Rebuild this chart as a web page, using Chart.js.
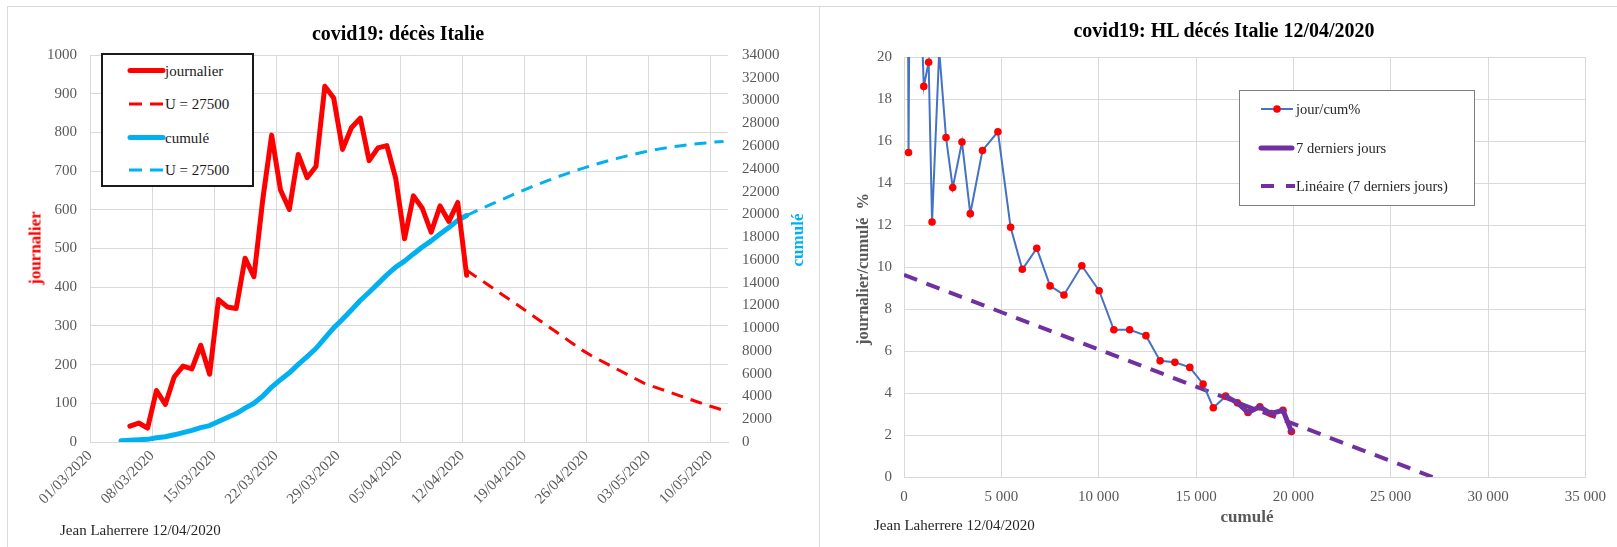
<!DOCTYPE html>
<html>
<head>
<meta charset="utf-8">
<script src="https://cdn.jsdelivr.net/npm/chart.js@4.4.1/dist/chart.umd.min.js"></script>
<style>
  body { margin: 0; width: 1617px; height: 547px; overflow: hidden; position: relative; background: #fff;
         font-family: "Liberation Serif", "Times New Roman", serif; }
  .abs { position: absolute; }
  .mid { transform: translate(-50%, -50%); white-space: pre; line-height: 1; }
  .vert { transform: translate(-50%, -50%) rotate(-90deg); white-space: pre; line-height: 1; font-weight: bold; }
  .title { font-weight: bold; font-size: 20px; color: #000; }
  .foot { font-size: 15px; color: #262626; white-space: pre; line-height: 1; transform: translateY(-50%); }
  .leg { font-size: 15px; color: #1a1a1a; white-space: pre; line-height: 1; transform: translateY(-50%); }
  .leg2 { font-size: 14.5px; color: #262626; white-space: pre; line-height: 1; transform: translateY(-50%); }
  svg { position: absolute; overflow: visible; }
</style>
</head>
<body>
<div class="abs" style="left:7px;top:6px;width:1640px;height:600px;border:1px solid #d9d9d9;"></div>
<div class="abs" style="left:819px;top:6px;width:1px;height:600px;background:#d9d9d9;"></div>

<canvas id="deces" class="abs" width="819" height="547" style="left:0;top:0;"></canvas>
<canvas id="hl" class="abs" width="798" height="547" style="left:819px;top:0;"></canvas>

<!-- left chart texts -->
<div class="abs mid title" style="left:398px;top:33px;">covid19: décès Italie</div>
<div class="abs vert" style="left:35px;top:248px;font-size:17px;color:#ff0000;">journalier</div>
<div class="abs vert" style="left:797px;top:240px;font-size:17px;color:#00b0f0;">cumulé</div>
<div class="abs foot" style="left:60px;top:530px;">Jean Laherrere 12/04/2020</div>

<div class="abs" style="left:101px;top:53px;width:153px;height:134px;box-sizing:border-box;border:2px solid #1a1a1a;background:#fff;"></div>
<svg style="left:0;top:0;width:1px;height:1px;">
  <line x1="130" y1="70.5" x2="163" y2="70.5" stroke="#ff0000" stroke-width="5" stroke-linecap="round"/>
  <line x1="129" y1="104" x2="164" y2="104" stroke="#ff0000" stroke-width="3" stroke-dasharray="13 8"/>
  <line x1="130" y1="137.5" x2="163" y2="137.5" stroke="#00b0f0" stroke-width="5" stroke-linecap="round"/>
  <line x1="129" y1="170" x2="164" y2="170" stroke="#00b0f0" stroke-width="3" stroke-dasharray="13 8"/>
</svg>
<div class="abs leg" style="left:165px;top:70.5px;">journalier</div>
<div class="abs leg" style="left:165px;top:104px;">U = 27500</div>
<div class="abs leg" style="left:165px;top:137.5px;">cumulé</div>
<div class="abs leg" style="left:165px;top:170px;">U = 27500</div>

<!-- right chart texts -->
<div class="abs mid title" style="left:1224px;top:30px;">covid19: HL décés Italie 12/04/2020</div>
<div class="abs vert" style="left:863px;top:269px;font-size:16.5px;color:#595959;">journalier/cumulé  %</div>
<div class="abs mid" style="left:1247px;top:516px;font-size:17px;font-weight:bold;color:#595959;">cumulé</div>
<div class="abs foot" style="left:874px;top:525px;">Jean Laherrere 12/04/2020</div>

<div class="abs" style="left:1239px;top:90px;width:236px;height:116px;box-sizing:border-box;border:1px solid #7f7f7f;background:#fff;"></div>
<svg style="left:0;top:0;width:1px;height:1px;">
  <line x1="1261" y1="109" x2="1293" y2="109" stroke="#4472c4" stroke-width="2"/>
  <circle cx="1277" cy="109" r="3.8" fill="#ff0000"/>
  <line x1="1261" y1="148" x2="1292" y2="148" stroke="#7030a0" stroke-width="5" stroke-linecap="round"/>
  <line x1="1261" y1="186" x2="1295" y2="186" stroke="#7030a0" stroke-width="4" stroke-dasharray="13 12"/>
</svg>
<div class="abs leg2" style="left:1296px;top:109px;">jour/cum%</div>
<div class="abs leg2" style="left:1296px;top:148px;">7 derniers jours</div>
<div class="abs leg2" style="left:1296px;top:186px;">Linéaire (7 derniers jours)</div>

<script>
// --- données: décès Italie (date de départ de chaque série + valeurs journalières) ---
const journalierDebut = '05/03/2020';
const journalier = [41, 49, 36, 133, 97, 168, 196, 189, 250, 175,
                    368, 349, 345, 475, 427, 627, 793, 651, 601, 743,
                    683, 712, 919, 889, 756, 812, 837, 727, 760, 766,
                    681, 525, 636, 604, 542, 610, 570, 619, 431];

const cumulDebut = '04/03/2020';
const cumul = [107, 148, 197, 233, 366, 463, 631, 827, 1016, 1266,
               1441, 1809, 2158, 2503, 2978, 3405, 4032, 4825, 5476, 6077,
               6820, 7503, 8215, 9134, 10023, 10779, 11591, 12428, 13155, 13915,
               14681, 15362, 15887, 16523, 17127, 17669, 18279, 18849, 19468, 19899];

// modèle U = 27500, à partir du 12/04
const modeleDebut = '12/04/2020';
const modeleJournalier = [444, 428, 413, 397, 381, 366, 350, 334, 318, 302,
                          286, 270, 254, 238, 224, 212, 200, 188, 176, 164,
                          152, 144, 136, 128, 120, 112, 104, 96, 89, 82];
const modeleCumul = [19899, 20259, 20614, 20964, 21309, 21649, 21984, 22314, 22624, 22924,
                     23214, 23494, 23762, 24018, 24262, 24494, 24714, 24922, 25118, 25302,
                     25474, 25634, 25774, 25900, 26012, 26112, 26200, 26278, 26348, 26408];

// --- données: Hubbert linearization (cumulé, journalier/cumulé %) ---
const hlCumul = [148, 197, 233, 366, 463, 631, 827, 1016, 1266, 1441,
                 1809, 2158, 2503, 2978, 3405, 4032, 4825, 5476, 6077, 6820,
                 7503, 8215, 9134, 10023, 10779, 11591, 12428, 13155, 13915, 14681,
                 15362, 15887, 16523, 17127, 17669, 18279, 18849, 19468, 19899];
const hlPct = [27.7, 24.9, 15.45, 36.3, 20.95, 26.6, 23.7, 18.6, 19.75, 12.14,
               20.3, 16.17, 13.78, 15.95, 12.54, 15.55, 16.44, 11.89, 9.89, 10.89,
               9.10, 8.67, 10.06, 8.87, 7.01, 7.01, 6.73, 5.53, 5.46, 5.22,
               4.43, 3.30, 3.85, 3.53, 3.07, 3.34, 3.02, 3.18, 2.17];
const derniersJours = 7;
const tendanceCumul = [0, 27150];
const tendancePct = [9.62, 0];

// axes
const dateOrigine = '01/03/2020';
const dateFinJours = 72;       // 12/05/2020
const xMaxCumul = 35000;

const GRID = '#d9d9d9';
const TICK = '#595959';
const FONT = { family: "'Liberation Serif', 'Times New Roman', serif", size: 15 };

function jour(str) {
    const [d, m, y] = str.split('/').map(Number);
    const [d0, m0, y0] = dateOrigine.split('/').map(Number);
    return Math.round((Date.UTC(y, m - 1, d) - Date.UTC(y0, m0 - 1, d0)) / 86400000);
}

function serie(debut, values) {
    const j0 = jour(debut);
    return values.map((v, i) => ({ x: j0 + i + 0.5, y: v }));
}

function dateLabel(value) {
    const [d0, m0, y0] = dateOrigine.split('/').map(Number);
    const d = new Date(Date.UTC(y0, m0 - 1, d0 + value));
    const dd = String(d.getUTCDate()).padStart(2, '0');
    const mm = String(d.getUTCMonth() + 1).padStart(2, '0');
    return `${dd}/${mm}/${d.getUTCFullYear()}`;
}

function milliers(value) {
    return String(value).replace(/\B(?=(\d{3})+(?!\d))/g, ' ');
}

Chart.defaults.font.family = FONT.family;
Chart.defaults.font.size = FONT.size;
Chart.defaults.color = TICK;

new Chart(document.getElementById('deces'), {
    type: 'line',
    data: {
        datasets: [
            { data: serie(journalierDebut, journalier), yAxisID: 'y', borderColor: '#ff0000',
              borderWidth: 5, borderJoinStyle: 'round', borderCapStyle: 'round', order: 0 },
            { data: serie(modeleDebut, modeleJournalier), yAxisID: 'y', borderColor: '#ff0000',
              borderWidth: 3, borderDash: [12, 8], order: 1 },
            { data: serie(cumulDebut, cumul), yAxisID: 'y1', borderColor: '#00b0f0',
              borderWidth: 5, borderJoinStyle: 'round', borderCapStyle: 'round', order: 2 },
            { data: serie(modeleDebut, modeleCumul), yAxisID: 'y1', borderColor: '#00b0f0',
              borderWidth: 3, borderDash: [12, 8], order: 3 }
        ]
    },
    options: {
        responsive: false,
        animation: false,
        elements: { point: { radius: 0 }, line: { tension: 0 } },
        layout: { padding: { top: 55, left: 0, right: 0, bottom: 0 } },
        plugins: { legend: { display: false }, tooltip: { enabled: false } },
        scales: {
            x: {
                type: 'linear', min: 0, max: dateFinJours,
                afterFit: s => { s.height = 105; },
                grid: { color: GRID, drawTicks: false },
                border: { color: GRID },
                ticks: { stepSize: 7, includeBounds: false, autoSkip: false,
                         minRotation: 45, maxRotation: 45, padding: 5, callback: dateLabel }
            },
            y: {
                position: 'left', min: 0, max: 1000,
                afterFit: s => { s.width = 90; },
                grid: { color: GRID, drawTicks: false },
                border: { color: GRID },
                ticks: { stepSize: 100, padding: 13, callback: v => String(v) }
            },
            y1: {
                position: 'right', min: 0, max: 34000,
                afterFit: s => { s.width = 91; },
                grid: { display: false, drawTicks: false },
                border: { display: false },
                ticks: { stepSize: 2000, padding: 14, autoSkip: false, callback: v => String(v) }
            }
        }
    }
});

const hlPoints = hlCumul.map((c, i) => ({ x: c, y: hlPct[i] }));

new Chart(document.getElementById('hl'), {
    type: 'line',
    data: {
        datasets: [
            { data: hlPoints.slice(-derniersJours), borderColor: '#7030a0', borderWidth: 5,
              borderJoinStyle: 'round', borderCapStyle: 'round', pointRadius: 0, order: 0 },
            { data: hlPoints, borderColor: '#4472c4', borderWidth: 2, pointRadius: 3.8,
              pointBackgroundColor: '#ff0000', pointBorderWidth: 0, order: 1 },
            { data: tendanceCumul.map((c, i) => ({ x: c, y: tendancePct[i] })), borderColor: '#7030a0',
              borderWidth: 4, borderDash: [14, 10], pointRadius: 0, order: 2 }
        ]
    },
    options: {
        responsive: false,
        animation: false,
        clip: 0,
        elements: { line: { tension: 0 } },
        layout: { padding: { top: 57, left: 0, right: 27, bottom: 0 } },
        plugins: { legend: { display: false }, tooltip: { enabled: false } },
        scales: {
            x: {
                type: 'linear', min: 0, max: xMaxCumul,
                afterFit: s => { s.height = 70; },
                grid: { color: GRID, drawTicks: false },
                border: { color: GRID },
                ticks: { stepSize: 5000, padding: 11, maxRotation: 0, callback: milliers }
            },
            y: {
                min: 0, max: 20,
                afterFit: s => { s.width = 85; },
                grid: { color: GRID, drawTicks: false },
                border: { color: GRID },
                ticks: { stepSize: 2, padding: 12 }
            }
        }
    }
});
</script>
</body>
</html>
